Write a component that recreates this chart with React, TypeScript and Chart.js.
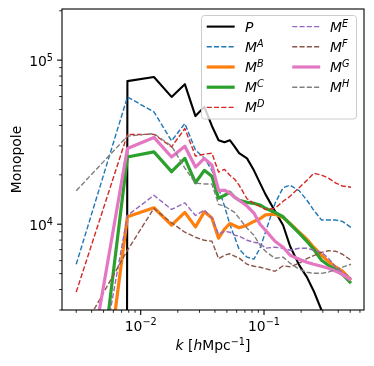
import React, { useEffect, useRef } from 'react';
import { Chart, registerables } from 'chart.js';
Chart.register(...registerables);

// k values [h/Mpc]
const K = [0.003, 0.0078, 0.0128, 0.0178, 0.0228, 0.0278, 0.0328, 0.0378, 0.0428, 0.0478, 0.0528, 0.0578, 0.0628, 0.0728, 0.0828, 0.0928, 0.1028, 0.1228, 0.1428, 0.1628, 0.1928, 0.2228, 0.2528, 0.2928, 0.3328, 0.3828, 0.4328, 0.5078];

const P = [1e-300, 74500, 79000, 59700, 71400, 45600, 51900, 39700, 32500, 31600, 32500, 29700, 27100, 25200, 21300, 17800, 15200, 12000, 9860, 7340, 5630, 4760, 3920, 2990, 2300, 1700, 1300, 900];
const MA = [5700, 59600, 48400, 32200, 41100, 28300, 25300, 21300, 16600, 12900, 10000, 8330, 7040, 6300, 6120, 7140, 8940, 13400, 16700, 17300, 16000, 14000, 12200, 10600, 10600, 10600, 10400, 9550];
const MB = [43, 11100, 12600, 9860, 11800, 9630, 11900, 10900, 8220, 9320, 10100, 9790, 9520, 9860, 10400, 10800, 11400, 11500, 11000, 10100, 8940, 8100, 7240, 6470, 5940, 5470, 5170, 4560];
const MC = [71, 25700, 27600, 20900, 25200, 17900, 21300, 19600, 14400, 15000, 15700, 14600, 14000, 13600, 13400, 13100, 12500, 11800, 11100, 10000, 8810, 7870, 7040, 6030, 5620, 5250, 4950, 4370];
const MD = [3860, 35200, 35300, 29600, 38300, 26000, 26700, 27100, 20800, 21600, 19900, 18800, 17300, 14300, 13400, 12800, 12300, 12500, 13800, 14800, 16700, 18500, 20450, 19900, 19100, 17800, 17100, 16800];
const ME = [210, 11300, 15000, 12300, 13500, 11300, 12200, 10900, 8690, 9060, 8940, 8570, 8450, 7980, 7760, 7650, 7140, 7240, 7140, 6940, 7140, 7140, 6940, 6740, 6210, 5470, 5090, 4690];
const MF = [1940, 6930, 12500, 10200, 8940, 8330, 7980, 7870, 6170, 6470, 6610, 6380, 6210, 5700, 5540, 5470, 5360, 5170, 5580, 5510, 5780, 6170, 6430, 6740, 6890, 6840, 6560, 6030];
const MG = [460, 28900, 33800, 25700, 29900, 22300, 25200, 22900, 16100, 16100, 15500, 14600, 14000, 12900, 11700, 10000, 9190, 7870, 7240, 6470, 6120, 5870, 5700, 5540, 5390, 5170, 4950, 4560];
const MH = [16000, 34400, 35700, 29900, 22000, 17800, 17600, 17600, 13200, 12900, 12300, 11800, 10900, 9460, 8570, 7450, 6840, 6200, 6300, 5780, 5320, 5100, 5020, 5020, 5100, 5320, 5470, 5700];

const X_TICK_EXP = [-3, -2, -1, 0];
const Y_TICK_EXP = [3, 4, 5];

type Seg = { t: string; it?: boolean; sup?: boolean };
type Series = { name: Seg[]; data: number[]; color: string; width: number; dash: number[] };

const SERIES: Series[] = [
  { name: [{ t: 'P', it: true }], data: P, color: '#000000', width: 2.1, dash: [] },
  { name: [{ t: 'M', it: true }, { t: 'A', it: true, sup: true }], data: MA, color: '#1f77b4', width: 1.4, dash: [5.1, 2.2] },
  { name: [{ t: 'M', it: true }, { t: 'B', it: true, sup: true }], data: MB, color: '#ff7f0e', width: 3.2, dash: [] },
  { name: [{ t: 'M', it: true }, { t: 'C', it: true, sup: true }], data: MC, color: '#2ca02c', width: 3.2, dash: [] },
  { name: [{ t: 'M', it: true }, { t: 'D', it: true, sup: true }], data: MD, color: '#d62728', width: 1.4, dash: [5.1, 2.2] },
  { name: [{ t: 'M', it: true }, { t: 'E', it: true, sup: true }], data: ME, color: '#9467bd', width: 1.4, dash: [5.1, 2.2] },
  { name: [{ t: 'M', it: true }, { t: 'F', it: true, sup: true }], data: MF, color: '#8c564b', width: 1.4, dash: [5.1, 2.2] },
  { name: [{ t: 'M', it: true }, { t: 'G', it: true, sup: true }], data: MG, color: '#e377c2', width: 3.2, dash: [] },
  { name: [{ t: 'M', it: true }, { t: 'H', it: true, sup: true }], data: MH, color: '#7f7f7f', width: 1.4, dash: [5.1, 2.2] },
];

const FONT = "'DejaVu Sans', sans-serif";
const FS = 13.9;

function segFont(s: Seg, fs: number) {
  const size = s.sup ? fs * 0.7 : fs;
  return `${s.it ? 'italic ' : ''}${size}px ${FONT}`;
}
function measureRich(ctx: CanvasRenderingContext2D, segs: Seg[], fs: number) {
  let w = 0;
  for (const s of segs) { ctx.font = segFont(s, fs); w += ctx.measureText(s.t).width; }
  return w;
}
function drawRich(ctx: CanvasRenderingContext2D, segs: Seg[], x: number, y: number, fs: number) {
  let cx = x;
  ctx.textAlign = 'left';
  ctx.textBaseline = 'alphabetic';
  for (const s of segs) {
    ctx.font = segFont(s, fs);
    ctx.fillText(s.t, cx, s.sup ? y - fs * 0.36 : y);
    cx += ctx.measureText(s.t).width;
  }
}

const decor = {
  id: 'decor',
  afterDraw(chart: any) {
    const ctx: CanvasRenderingContext2D = chart.ctx;
    const { left, right, top, bottom } = chart.chartArea;
    const xs = chart.scales.x, ys = chart.scales.y;
    ctx.save();
    ctx.fillStyle = '#000';
    ctx.strokeStyle = '#000';
    // ticks x
    for (const e of X_TICK_EXP) {
      for (let m = 1; m <= 9; m++) {
        const v = m * Math.pow(10, e);
        if (v < xs.min || v > xs.max) continue;
        const px = xs.getPixelForValue(v);
        const major = m === 1;
        ctx.lineWidth = major ? 1.1 : 0.85;
        const len = major ? 4.9 : 2.8;
        ctx.beginPath(); ctx.moveTo(px, bottom); ctx.lineTo(px, bottom + len); ctx.stroke();
        if (major) {
          const segs: Seg[] = [{ t: '10' }, { t: '\u2212' + String(-e), sup: true }];
          const w = measureRich(ctx, segs, FS);
          drawRich(ctx, segs, px - w / 2, 330.5, FS);
        }
      }
    }
    // ticks y
    for (const e of Y_TICK_EXP) {
      for (let m = 1; m <= 9; m++) {
        const v = m * Math.pow(10, e);
        if (v < ys.min || v > ys.max) continue;
        const py = ys.getPixelForValue(v);
        const major = m === 1;
        ctx.lineWidth = major ? 1.1 : 0.85;
        const len = major ? 4.9 : 2.8;
        ctx.beginPath(); ctx.moveTo(left, py); ctx.lineTo(left - len, py); ctx.stroke();
        if (major) {
          const segs: Seg[] = [{ t: '10' }, { t: String(e), sup: true }];
          const w = measureRich(ctx, segs, FS);
          drawRich(ctx, segs, left - 9.0 - w, py + 5.5, FS);
        }
      }
    }
    // spines
    ctx.lineWidth = 1.1;
    ctx.strokeRect(left, top, right - left, bottom - top);
    // axis labels
    const xl: Seg[] = [{ t: 'k', it: true }, { t: ' [' }, { t: 'h', it: true }, { t: 'Mpc' }, { t: '\u22121', sup: true }, { t: ']' }];
    const xw = measureRich(ctx, xl, FS);
    drawRich(ctx, xl, (left + right) / 2 - xw / 2, 350, FS);
    ctx.save();
    ctx.translate(20.5, (top + bottom) / 2);
    ctx.rotate(-Math.PI / 2);
    ctx.font = `${FS}px ${FONT}`;
    ctx.textAlign = 'center';
    ctx.textBaseline = 'alphabetic';
    ctx.fillText('Monopole', 0, 0);
    ctx.restore();
    // legend
    const lx = 201.5, ly = 15.5, lw = 155, lh = 103.5, r = 3;
    ctx.beginPath();
    ctx.moveTo(lx + r, ly);
    ctx.arcTo(lx + lw, ly, lx + lw, ly + lh, r);
    ctx.arcTo(lx + lw, ly + lh, lx, ly + lh, r);
    ctx.arcTo(lx, ly + lh, lx, ly, r);
    ctx.arcTo(lx, ly, lx + lw, ly, r);
    ctx.closePath();
    ctx.fillStyle = 'rgba(255,255,255,0.8)';
    ctx.fill();
    ctx.strokeStyle = '#cccccc';
    ctx.lineWidth = 1;
    ctx.stroke();
    const rowY = [26.6, 46.8, 67.0, 87.2, 107.4];
    SERIES.forEach((s, i) => {
      const col = i < 5 ? 0 : 1;
      const row = i < 5 ? i : i - 5;
      const hx = col === 0 ? 206.7 : 292.2;
      const tx = col === 0 ? 245 : 330;
      const y = rowY[row];
      ctx.strokeStyle = s.color;
      ctx.lineWidth = s.width;
      ctx.setLineDash(s.dash);
      ctx.lineCap = 'butt';
      ctx.beginPath(); ctx.moveTo(hx, y); ctx.lineTo(hx + 28, y); ctx.stroke();
      ctx.setLineDash([]);
      ctx.fillStyle = '#000';
      drawRich(ctx, s.name, tx, y + 5, FS);
    });
    ctx.restore();
  },
};

export default function App() {
  const ref = useRef<HTMLCanvasElement>(null);
  useEffect(() => {
    if (!ref.current) return;
    const n = SERIES.length;
    const chart = new Chart(ref.current, {
      type: 'line',
      data: {
        datasets: SERIES.map((s, i) => ({
          label: s.name.map((g) => g.t).join(''),
          data: K.map((k, j) => ({ x: k, y: s.data[j] })),
          borderColor: s.color,
          borderWidth: s.width,
          borderDash: s.dash,
          borderJoinStyle: 'round' as const,
          pointRadius: 0,
          tension: 0,
          fill: false,
          order: n - i,
        })),
      },
      options: {
        animation: false,
        responsive: false,
        layout: { padding: { left: 0, right: 10, top: 9, bottom: 0 } },
        plugins: { legend: { display: false }, tooltip: { enabled: false } },
        scales: {
          x: {
            type: 'logarithmic', min: 0.0023, max: 0.647,
            ticks: { display: false }, grid: { display: false }, border: { display: false },
            afterFit: (s: any) => { s.height = 56; },
          },
          y: {
            type: 'logarithmic', min: 3000, max: 205000,
            ticks: { display: false }, grid: { display: false }, border: { display: false },
            afterFit: (s: any) => { s.width = 62; },
          },
        },
      } as any,
      plugins: [decor],
    });
    return () => chart.destroy();
  }, []);
  return (
    <div style={{ position: 'fixed', left: 0, top: 0, width: 374, height: 366, background: '#fff' }}>
      <canvas ref={ref} width={374} height={366} style={{ width: 374, height: 366, display: 'block' }} />
    </div>
  );
}
